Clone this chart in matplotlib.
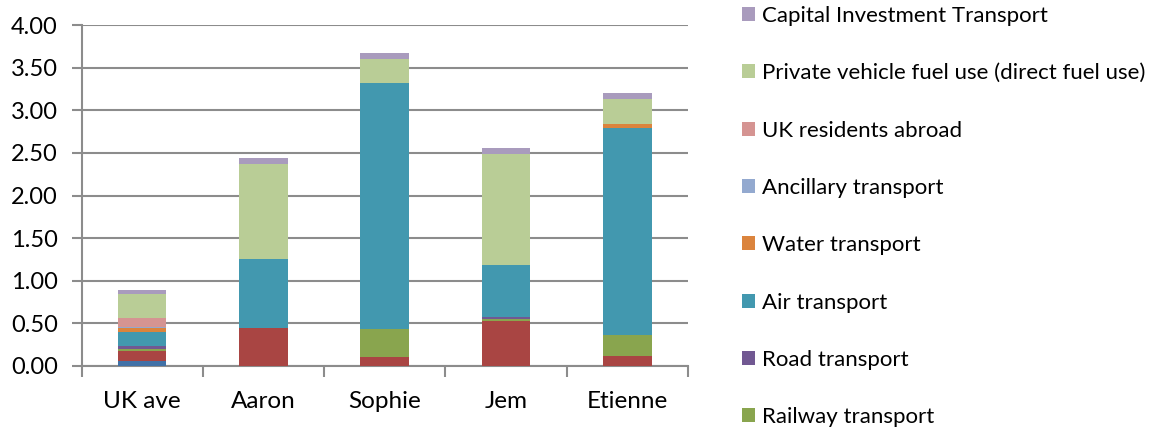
import numpy as np
import matplotlib
matplotlib.use("Agg")
import matplotlib.pyplot as plt
from matplotlib.ticker import FixedLocator, FormatStrFormatter

plt.rcParams['font.family'] = ['Lato', 'DejaVu Sans']

categories = ['UK ave', 'Aaron', 'Sophie', 'Jem', 'Etienne']

# stacked from the bottom up
series_names = [
    'Bus transport',
    'Car manufacture',
    'Railway transport',
    'Road transport',
    'Air transport',
    'Water transport',
    'Ancillary transport',
    'UK residents abroad',
    'Private vehicle fuel use (direct fuel use)',
    'Capital Investment Transport',
]
bus = [0.06, 0.0, 0.0, 0.0, 0.0]
car = [0.12, 0.45, 0.11, 0.525, 0.12]
railway = [0.02, 0.0, 0.32, 0.024, 0.243]
road = [0.035, 0.0, 0.0, 0.023, 0.0]
air = [0.165, 0.81, 2.89, 0.61, 2.43]
water = [0.045, 0.0, 0.0, 0.0, 0.047]
ancillary = [0.01, 0.0, 0.0, 0.0, 0.0]
abroad = [0.11, 0.0, 0.0, 0.0, 0.0]
private_fuel = [0.285, 1.11, 0.28, 1.305, 0.293]
capital = [0.04, 0.07, 0.075, 0.075, 0.075]

series_values = [bus, car, railway, road, air, water, ancillary, abroad,
                 private_fuel, capital]
colors = ['#4171A7', '#A94543', '#89A54E', '#715892', '#4298AF', '#DB843D',
          '#93A9CF', '#D59492', '#B9CD96', '#A99BBD']

fig = plt.figure(figsize=(11.49, 4.33), dpi=100)
ax = fig.add_axes([81.5 / 1149, 1 - 366 / 433, (688 - 81.5) / 1149, (366 - 25) / 433])

x = np.arange(len(categories))
bottom = np.zeros(len(categories))
handles = []
for name, vals, col in zip(series_names, series_values, colors):
    b = ax.bar(x, vals, width=0.4, bottom=bottom, color=col, label=name, zorder=3)
    handles.append(b)
    bottom += np.array(vals)

ax.set_ylim(0, 4)
ax.set_xlim(-0.5, len(categories) - 0.5)
ax.set_yticks(np.arange(0, 4.01, 0.5))
ax.yaxis.set_major_formatter(FormatStrFormatter('%.2f'))
ax.set_xticks(x)
ax.set_xticklabels(categories)
ax.xaxis.set_minor_locator(FixedLocator(np.arange(-0.5, len(categories), 1.0)))

grid_col = '#8C8C8C'
ax.yaxis.grid(True, color=grid_col, linewidth=1.5, zorder=0)
for s in ['top', 'right']:
    ax.spines[s].set_visible(False)
for s in ['left', 'bottom']:
    ax.spines[s].set_color(grid_col)
    ax.spines[s].set_linewidth(1.5)

ax.tick_params(axis='y', length=7, width=1.5, color=grid_col, labelsize=17, pad=10)
ax.tick_params(axis='x', which='major', length=0, labelsize=17.5, pad=18)
ax.tick_params(axis='x', which='minor', length=8, width=1.5, color=grid_col)

# legend in reverse order, as in the reference; the two bottom series
# have their entries below the visible area there, so only 8 are shown
shown = slice(9, 1, -1)
fig.legend(handles[shown], series_names[shown], loc='upper left',
           bbox_to_anchor=(733 / 1149, 1 + 3 / 433), frameon=False,
           fontsize=16, handlelength=0.6, handleheight=0.6, handletextpad=0.3,
           labelspacing=1.68, borderaxespad=0)

fig.savefig('out.png', dpi=100)
